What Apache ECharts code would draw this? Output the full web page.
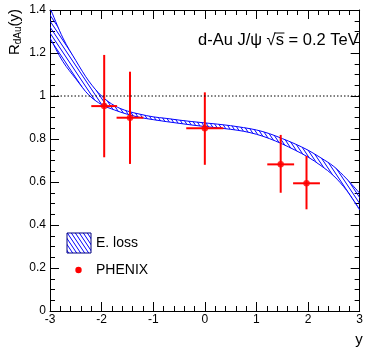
<!DOCTYPE html>
<html>
<head>
<meta charset="utf-8">
<script src="https://cdn.jsdelivr.net/npm/echarts@6/dist/echarts.min.js"></script>
<style>
  html, body { margin: 0; padding: 0; background: #fff; }
  #chart { width: 366px; height: 348px; }
</style>
</head>
<body>
<div id="chart"></div>
<script>
// Energy-loss band: upper and lower edges versus rapidity
const bandX     = [-3.0, -2.75, -2.5, -2.25, -2.0, -1.75, -1.5, -1.25, -1.0, -0.75, -0.5, -0.25, 0.0, 0.25, 0.5, 0.75, 1.0, 1.25, 1.5, 1.75, 2.0, 2.25, 2.5, 2.75, 3.0];
const bandUpper = [1.41, 1.27, 1.165, 1.07, 1.0, 0.955, 0.93, 0.915, 0.903, 0.896, 0.888, 0.881, 0.875, 0.869, 0.862, 0.853, 0.842, 0.825, 0.802, 0.777, 0.748, 0.712, 0.672, 0.614, 0.548];
const bandLower = [1.27, 1.16, 1.08, 1.005, 0.96, 0.935, 0.915, 0.90, 0.89, 0.881, 0.873, 0.865, 0.858, 0.852, 0.845, 0.836, 0.822, 0.802, 0.777, 0.748, 0.716, 0.676, 0.628, 0.56, 0.47];

// PHENIX measurements
const phenixX    = [-1.95, -1.45, 0.0, 1.47, 1.97];
const phenixR    = [0.953, 0.899, 0.850, 0.682, 0.594];
const phenixXErr = [0.25, 0.26, 0.36, 0.26, 0.26];
const phenixLow  = [0.715, 0.684, 0.680, 0.550, 0.473];
const phenixHigh = [1.191, 1.113, 1.017, 0.819, 0.721];

// Axis ticks
const xTicks = [-3, -2, -1, 0, 1, 2, 3];
const yTicks = [0, 0.2, 0.4, 0.6, 0.8, 1, 1.2, 1.4];

const FONT = 'Liberation Sans, Arial, Helvetica, sans-serif';
const BLUE = '#0000ff';
const RED = '#ff0000';

// diagonal hatch pattern for the band
function makeHatch() {
  const w = 4, h = 6;
  const c = document.createElement('canvas');
  c.width = w; c.height = h;
  const g = c.getContext('2d');
  g.strokeStyle = BLUE;
  g.lineWidth = 1;
  g.beginPath();
  g.moveTo(-w, -h); g.lineTo(2 * w, 2 * h);
  g.moveTo(-2 * w, -h); g.lineTo(w, 2 * h);
  g.moveTo(0, -h); g.lineTo(3 * w, 2 * h);
  g.stroke();
  return c;
}
const hatch = makeHatch();

// Catmull-Rom curve through screen points, as SVG path commands
function curveCmds(pts, start) {
  let d = start ? `M${pts[0][0]},${pts[0][1]}` : `L${pts[0][0]},${pts[0][1]}`;
  const n = pts.length;
  for (let i = 0; i < n - 1; i++) {
    const p0 = pts[Math.max(i - 1, 0)], p1 = pts[i], p2 = pts[i + 1], p3 = pts[Math.min(i + 2, n - 1)];
    const c1x = p1[0] + (p2[0] - p0[0]) / 6, c1y = p1[1] + (p2[1] - p0[1]) / 6;
    const c2x = p2[0] - (p3[0] - p1[0]) / 6, c2y = p2[1] - (p3[1] - p1[1]) / 6;
    d += ` C${c1x},${c1y} ${c2x},${c2y} ${p2[0]},${p2[1]}`;
  }
  return d;
}

const chart = echarts.init(document.getElementById('chart'), null, { renderer: 'canvas' });

const grid = { left: 50, right: 3, top: 10, bottom: 37 };

const commonX = {
  type: 'value', min: xTicks[0], max: xTicks[xTicks.length - 1], interval: 1,
  axisLine: { show: true, onZero: false, lineStyle: { color: '#000', width: 1 } },
  axisTick: { show: true, inside: true, length: 9, lineStyle: { color: '#000' } },
  minorTick: { show: true, splitNumber: 5, length: 5, lineStyle: { color: '#000' } },
  splitLine: { show: false }
};
const commonY = {
  type: 'value', min: yTicks[0], max: yTicks[yTicks.length - 1], interval: 0.2,
  axisLine: { show: true, onZero: false, lineStyle: { color: '#000', width: 1 } },
  axisTick: { show: true, inside: true, length: 9, lineStyle: { color: '#000' } },
  minorTick: { show: true, splitNumber: 4, length: 5, lineStyle: { color: '#000' } },
  splitLine: { show: false }
};

const errData = phenixX.map((x, i) => [x, phenixR[i], phenixXErr[i], phenixLow[i], phenixHigh[i]]);

// position of the overline above "s" in the title
const titleFont = '16.5px Liberation Sans';
const titlePre = 'd-Au J/\u03c8 \u221a';
const titleX = 198, titleY = 41;
const mc = document.createElement('canvas').getContext('2d');
mc.font = titleFont;
const preW = mc.measureText(titlePre).width;
const sW = mc.measureText('s').width;

chart.setOption({
  animation: false,
  grid: grid,
  xAxis: [
    Object.assign({}, commonX, {
      position: 'bottom',
      axisLabel: { show: true, margin: 3, color: '#000', fontFamily: FONT, fontSize: 12 }
    }),
    Object.assign({}, commonX, { position: 'top', axisLabel: { show: false } })
  ],
  yAxis: [
    Object.assign({}, commonY, {
      position: 'left',
      axisLabel: { show: true, margin: 4, color: '#000', fontFamily: FONT, fontSize: 12,
        formatter: v => String(Math.round(v * 10) / 10) }
    }),
    Object.assign({}, commonY, { position: 'right', axisLabel: { show: false } })
  ],
  series: [
    {
      // hatched band with its two edges
      type: 'custom', data: [0], clip: true, silent: true,
      renderItem: function (params, api) {
        const up = bandX.map((x, i) => api.coord([x, bandUpper[i]]));
        const lo = bandX.map((x, i) => api.coord([x, bandLower[i]]));
        const loRev = lo.slice().reverse();
        const fillPath = curveCmds(up, true) + ' ' + curveCmds(loRev, false) + ' Z';
        return {
          type: 'group',
          children: [
            { type: 'path', shape: { pathData: fillPath },
              style: { fill: { image: hatch, repeat: 'repeat' }, stroke: null } },
            { type: 'path', shape: { pathData: curveCmds(up, true) },
              style: { fill: null, stroke: BLUE, lineWidth: 1 } },
            { type: 'path', shape: { pathData: curveCmds(lo, true) },
              style: { fill: null, stroke: BLUE, lineWidth: 1 } }
          ]
        };
      }
    },
    {
      type: 'line', data: [[xTicks[0], 1], [xTicks[xTicks.length - 1], 1]], symbol: 'none',
      lineStyle: { color: '#000', width: 1, type: [1.5, 2] }, silent: true
    },
    {
      type: 'custom', data: errData, silent: true,
      renderItem: function (params, api) {
        const x = api.value(0), y = api.value(1), ex = api.value(2);
        const lo = api.value(3), hi = api.value(4);
        const pL = api.coord([x - ex, y]), pR = api.coord([x + ex, y]);
        const pT = api.coord([x, hi]), pB = api.coord([x, lo]);
        const st = { stroke: RED, lineWidth: 2 };
        return {
          type: 'group',
          children: [
            { type: 'line', shape: { x1: pL[0], y1: pL[1], x2: pR[0], y2: pR[1] }, style: st },
            { type: 'line', shape: { x1: pT[0], y1: pT[1], x2: pB[0], y2: pB[1] }, style: st }
          ]
        };
      }
    },
    {
      type: 'scatter', data: phenixX.map((x, i) => [x, phenixR[i]]),
      symbol: 'circle', symbolSize: 6.5, itemStyle: { color: RED }, silent: true
    }
  ],
  graphic: [
    // title
    { type: 'text', left: titleX, top: titleY - 9,
      style: { text: titlePre + 's = 0.2 TeV', font: titleFont, fill: '#000' } },
    { type: 'line', shape: { x1: titleX + preW - 1, y1: titleY - 8, x2: titleX + preW + sW + 0.5, y2: titleY - 8 },
      style: { stroke: '#000', lineWidth: 1 } },
    // y-axis title
    { type: 'text', x: 15, y: 32, rotation: Math.PI / 2,
      style: {
        text: '{r|R}{s|dAu}{r|(y)}', align: 'center', verticalAlign: 'middle',
        rich: {
          r: { fontFamily: FONT, fontSize: 15, fill: '#000' },
          s: { fontFamily: FONT, fontSize: 10, fill: '#000', padding: [6, 0, 0, 0] }
        }
      } },
    // x-axis title
    { type: 'text', x: 359, y: 340,
      style: { text: 'y', font: '15px Liberation Sans', fill: '#000', align: 'center', verticalAlign: 'middle' } },
    // legend
    { type: 'rect', shape: { x: 67, y: 233, width: 24, height: 20 },
      style: { fill: { image: hatch, repeat: 'repeat' }, stroke: '#000080', lineWidth: 1 } },
    { type: 'text', x: 96, y: 243,
      style: { text: 'E. loss', font: '14px Liberation Sans', fill: '#000', verticalAlign: 'middle' } },
    { type: 'circle', shape: { cx: 78.5, cy: 270, r: 3.2 }, style: { fill: RED } },
    { type: 'text', x: 96, y: 270,
      style: { text: 'PHENIX', font: '14px Liberation Sans', fill: '#000', verticalAlign: 'middle' } }
  ]
});
</script>
</body>
</html>
